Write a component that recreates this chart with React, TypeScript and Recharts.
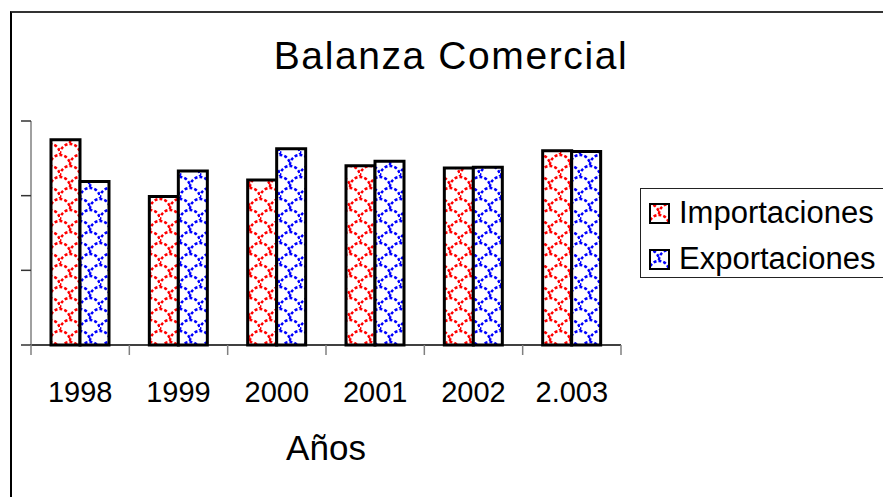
import React from 'react';
import { BarChart, Bar, XAxis, YAxis, Legend } from 'recharts';

const YEARS = ['1998', '1999', '2000', '2001', '2002', '2.003'];
const IMPORTACIONES = [275, 199, 221, 240, 237, 260];
const EXPORTACIONES = [219, 233, 263, 246, 238, 259];
const Y_TICKS = [0, 100, 200, 300];

const SERIES = [
  { key: 'imp', name: 'Importaciones', color: '#ff0000', pattern: 'patImp' },
  { key: 'exp', name: 'Exportaciones', color: '#0000ff', pattern: 'patExp' },
];

const data = YEARS.map((year, i) => ({
  year,
  imp: IMPORTACIONES[i],
  exp: EXPORTACIONES[i],
}));

const FONT = '"Liberation Sans", Arial, sans-serif';
const LEGEND_W = 260;
const PLOT_LEFT = 31;
const PLOT_RIGHT = 621;
const BAND = (PLOT_RIGHT - PLOT_LEFT) / YEARS.length;
const TICK_SIZE = 10;
const TICK_MARGIN = 26;

const ScalePattern = ({ id, color }: { id: string; color: string }) => (
  <pattern id={id} patternUnits="userSpaceOnUse" width="20" height="22">
    <rect width="20" height="22" fill="#fff" />
    <path
      d="M0,22 A10,10 0 0 1 20,22 M-10,11 A10,10 0 0 1 10,11 M10,11 A10,10 0 0 1 30,11"
      fill="none"
      stroke={color}
      strokeWidth={2.5}
      strokeDasharray="3 2"
    />
  </pattern>
);

// year label plus the Excel-style tick marks between categories
const YearTick = (props: any) => {
  const { x, y, payload, index } = props;
  const top = y - TICK_MARGIN - TICK_SIZE;
  const bottom = y - TICK_MARGIN;
  const edges = [x - BAND / 2];
  if (index === YEARS.length - 1) edges.push(x + BAND / 2);
  return (
    <g>
      {edges.map((ex) => (
        <line key={ex} x1={ex} x2={ex} y1={top} y2={bottom} stroke="#808080" strokeWidth={1.5} />
      ))}
      <text x={x} y={y} dy={21} textAnchor="middle" fontSize={29} fontFamily={FONT} fill="#000">
        {payload.value}
      </text>
    </g>
  );
};

const renderLegend = () => (
  <div
    style={{
      width: '100%',
      height: '100%',
      boxSizing: 'border-box',
      border: '1px solid #222',
      paddingTop: 1,
      paddingLeft: 8,
      fontFamily: FONT,
    }}
  >
    {SERIES.map((s) => (
      <div key={s.key} style={{ height: 46, display: 'flex', alignItems: 'center' }}>
        <svg width={21} height={21} style={{ marginRight: 9 }}>
          <rect x={1} y={1} width={19} height={19} fill={`url(#${s.pattern})`} stroke="#000" strokeWidth={2} />
        </svg>
        <span style={{ fontSize: 31, color: '#000', whiteSpace: 'nowrap' }}>{s.name}</span>
      </div>
    ))}
  </div>
);

export default function App() {
  return (
    <div style={{ position: 'absolute', left: 0, top: 0, width: 883, height: 497, overflow: 'hidden', background: '#fff' }}>
      <svg width={0} height={0} style={{ position: 'absolute' }}>
        <defs>
          {SERIES.map((s) => (
            <ScalePattern key={s.pattern} id={s.pattern} color={s.color} />
          ))}
        </defs>
      </svg>
      <div
        style={{
          position: 'absolute',
          left: 10,
          top: 11,
          width: 900,
          height: 500,
          borderLeft: '2px solid #000',
          borderTop: '2px solid #333',
        }}
      />
      <div style={{ position: 'absolute', left: 0, top: 0 }}>
        <BarChart
          width={883}
          height={497}
          data={data}
          // the legend width gets added to the right offset by recharts
          margin={{ top: 121, right: 883 - PLOT_RIGHT - LEGEND_W, bottom: 0, left: 0 }}
          barGap={0}
          barSize={29}
        >
          <text
            x={451}
            y={69}
            textAnchor="middle"
            fontSize={39}
            letterSpacing={1.6}
            fontFamily={FONT}
            fill="#000"
          >
            Balanza Comercial
          </text>
          <XAxis
            dataKey="year"
            height={152}
            interval={0}
            axisLine={{ stroke: '#000', strokeWidth: 1.5 }}
            tickLine={false}
            tickSize={TICK_SIZE}
            tickMargin={TICK_MARGIN}
            tick={<YearTick />}
            label={{ value: 'Años', position: 'insideBottom', offset: 37, fontSize: 35, fill: '#000', fontFamily: FONT }}
          />
          <YAxis
            width={PLOT_LEFT}
            domain={[0, 300]}
            ticks={Y_TICKS}
            axisLine={{ stroke: '#808080', strokeWidth: 1.5 }}
            tickLine={{ stroke: '#333', strokeWidth: 1.5 }}
            tickSize={10}
            tickFormatter={() => ''}
          />
          <Legend
            layout="horizontal"
            verticalAlign="middle"
            align="right"
            wrapperStyle={{ left: 640, top: 188, width: LEGEND_W, height: 90 }}
            content={renderLegend}
          />
          {SERIES.map((s) => (
            <Bar
              key={s.key}
              dataKey={s.key}
              name={s.name}
              fill={`url(#${s.pattern})`}
              stroke="#000"
              strokeWidth={3}
              isAnimationActive={false}
            />
          ))}
        </BarChart>
      </div>
    </div>
  );
}
